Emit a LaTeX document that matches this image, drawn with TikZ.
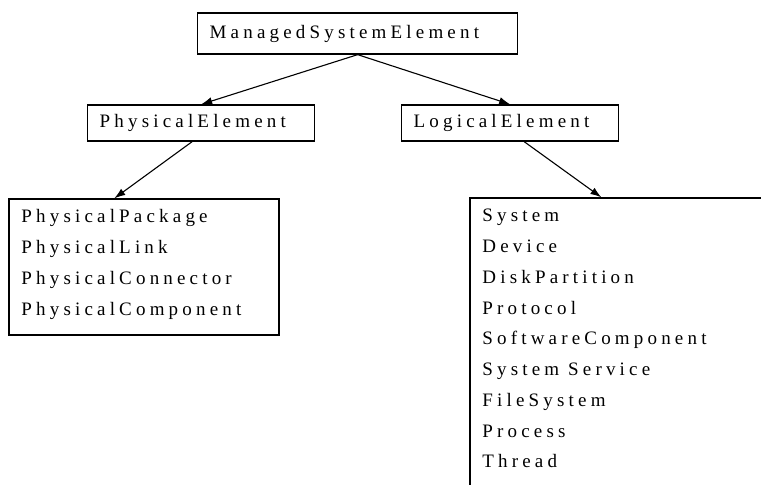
\documentclass[tikz,border=0pt]{standalone}
\usepackage{fontspec}
\usepackage{tikz}
\usetikzlibrary{arrows.meta,positioning,calc,fit}
\newfontfamily\spacedfont{Liberation Serif}[LetterSpace=22]
\tikzset{
  hier/.style={
    font=\spacedfont\fontsize{9.5}{11}\selectfont,
    >={Latex[length=5.5pt, width=3.8pt]},
    line join=miter,
  },
  block/.style={
    draw=black, line width=0.65pt, fill=white,
    anchor=west, align=left, inner xsep=6pt, inner ysep=0pt,
  },
  listBlock/.style={draw=black, line width=0.65pt, inner sep=0pt},
  itemText/.style={anchor=base west, inner sep=0pt},
  flow/.style={->, black, line width=0.55pt},
}

\begin{document}
\begin{tikzpicture}[hier, x=0.5pt, y=-0.5pt]
\useasboundingbox (0,0) rectangle (761,485);

% class boxes, one line each
\node[block, text width=148pt, minimum height=20.5pt]
  (mse) at (197, 33.5) {ManagedSystemElement};
\node[block, text width=101.5pt, minimum height=18pt]
  (phys) at (87, 123) {PhysicalElement};
\node[block, text width=96.5pt, minimum height=18pt]
  (logic) at (401, 123) {LogicalElement};

% subclass lists (the right one runs off the page)
\node[listBlock, fit={(9,199) (279,335)}] (physList) {};
\node[listBlock, fit={(470,198) (800,520)}] (logicList) {};

\foreach \lab [count=\i from 0] in {PhysicalPackage, PhysicalLink,
    PhysicalConnector, PhysicalComponent}
  \node[itemText] (physItem\i) at (21, 223+31*\i) {\lab};

\foreach \lab [count=\i from 0] in {System, Device, DiskPartition,
    Protocol, SoftwareComponent, System Service, FileSystem,
    Process, Thread}
  \node[itemText] (logicItem\i) at (482, 222+30.75*\i) {\lab};

% inheritance arrows
\draw[flow] (mse.south) -- (phys.north);
\draw[flow] (mse.south) -- (logic.north);
\draw[flow] ([xshift=-4.5pt]phys.south) -- ([xshift=53pt]physList.north west);
\draw[flow] ([xshift=7pt]logic.south) -- ([xshift=66pt]logicList.north west);

\end{tikzpicture}
\end{document}
